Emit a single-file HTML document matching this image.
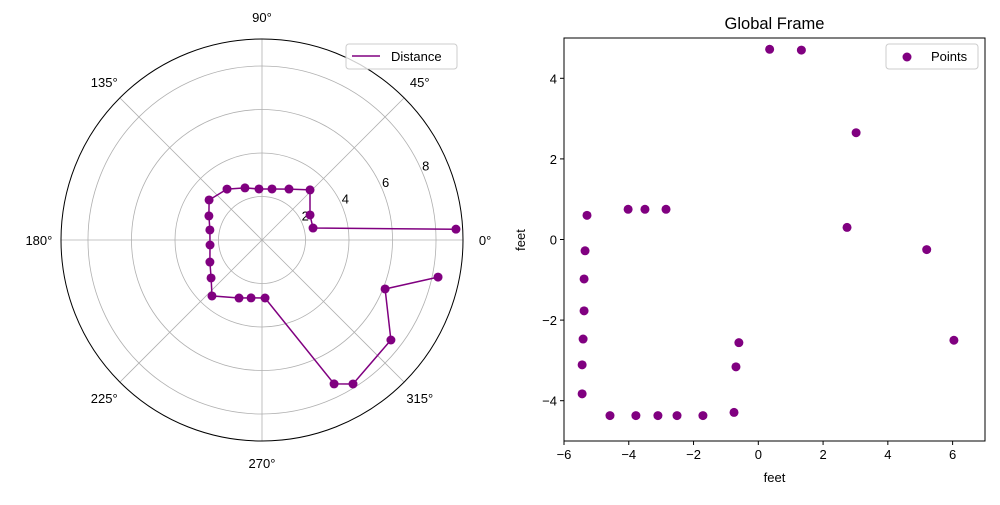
<!DOCTYPE html>
<html><head><meta charset="utf-8"><style>
body{margin:0;background:#fff}
svg text{font-family:"Liberation Sans","DejaVu Sans",sans-serif;font-size:13px;fill:#000}
</style></head><body>
<svg id="s" width="1000" height="500" xmlns="http://www.w3.org/2000/svg">
<rect width="1000" height="500" fill="#fff"/>
</svg>
<script>
const polarR=[8.93,2.41,2.49,3.19,2.65,2.39,2.35,2.52,2.84,3.05,2.68,2.44,2.40,2.60,2.92,3.45,2.87,2.71,2.67,7.40,7.83,7.50,6.09,8.27];
const polarTheta=[3.2,13.2,27.5,46.2,62.1,78.9,93.4,108.1,124.5,142.9,155.6,169.1,185.5,202.9,216.7,228.2,248.4,259.3,273,296.6,302.3,322.2,338.3,348.1];
const radialTicks=[2,4,6,8];
const angleTicks=[0,45,90,135,180,225,270,315];
const ptsX=[0.35,1.33,3.02,2.74,5.2,6.04,-4.02,-3.5,-2.85,-5.29,-5.35,-5.38,-5.38,-5.41,-5.44,-5.44,-4.58,-3.78,-3.1,-2.51,-1.71,-0.75,-0.69,-0.6];
const ptsY=[4.72,4.7,2.65,0.3,-0.25,-2.5,0.75,0.75,0.75,0.6,-0.28,-0.98,-1.77,-2.47,-3.11,-3.83,-4.37,-4.37,-4.37,-4.37,-4.37,-4.29,-3.16,-2.56];
const xTicks=[-6,-4,-2,0,2,4,6];
const yTicks=[-4,-2,0,2,4];
const PURPLE='#800080';
const s=document.getElementById('s');const NS='http://www.w3.org/2000/svg';
function el(t,a,txt){const e=document.createElementNS(NS,t);for(const k in a)e.setAttribute(k,a[k]);if(txt!==undefined)e.textContent=txt;s.appendChild(e);return e;}
// polar
const cx=262,cy=240,R=201,rmax=9.24;
const pr=r=>r/rmax*R;
const px=(r,t)=>cx+pr(r)*Math.cos(t*Math.PI/180);
const py=(r,t)=>cy-pr(r)*Math.sin(t*Math.PI/180);
for(const r of radialTicks){const c=el('circle',{cx:cx,cy:cy,r:pr(r),fill:'none',stroke:'#b0b0b0','stroke-width':0.8});

}
for(const a of angleTicks){const l=el('line',{x1:cx,y1:cy,x2:px(rmax,a),y2:py(rmax,a),stroke:'#b0b0b0','stroke-width':0.8});


const lr=rmax*1.11;const t=el('text',{x:px(lr,a),y:py(lr,a)+5,'text-anchor':'middle'},a+'°');

}
const oc=el('circle',{cx:cx,cy:cy,r:R,fill:'none',stroke:'#000','stroke-width':1});


for(const r of radialTicks){const t=el('text',{x:px(r,22.5)+3,y:py(r,22.5)-3,'text-anchor':'middle'},r);

}
let d='';polarR.forEach((r,i)=>{d+=(i?'L':'M')+px(r,polarTheta[i]).toFixed(1)+','+py(r,polarTheta[i]).toFixed(1);});
const pl=el('path',{d:d,fill:'none',stroke:PURPLE,'stroke-width':1.5});


polarR.forEach((r,i)=>{const c=el('circle',{cx:px(r,polarTheta[i]),cy:py(r,polarTheta[i]),r:4.5,fill:PURPLE});

});
const lg1=el('rect',{x:346,y:44,width:111,height:25,rx:3,fill:'#fff','fill-opacity':0.8,stroke:'#ccc'});


el('line',{x1:352,y1:56,x2:380,y2:56,stroke:PURPLE,'stroke-width':1.5});
const lt1=el('text',{x:391,y:61},'Distance');


// cartesian
const X0=564,X1=985,Y0=38,Y1=441;
const sx=v=>X0+(v+6)/13*(X1-X0);
const sy=v=>Y1-(v+5)/10*(Y1-Y0);
const fr=el('rect',{x:X0,y:Y0,width:X1-X0,height:Y1-Y0,fill:'none',stroke:'#000','stroke-width':1});


for(const v of xTicks){el('line',{x1:sx(v),y1:Y1,x2:sx(v),y2:Y1+4,stroke:'#000'});
const t=el('text',{x:sx(v),y:Y1+18,'text-anchor':'middle'},v<0?'−'+(-v):v);

}
for(const v of yTicks){el('line',{x1:X0-4,y1:sy(v),x2:X0,y2:sy(v),stroke:'#000'});
const t=el('text',{x:X0-7,y:sy(v)+5,'text-anchor':'end'},v<0?'−'+(-v):v);

}
ptsX.forEach((x,i)=>{const c=el('circle',{cx:sx(x),cy:sy(ptsY[i]),r:4.5,fill:PURPLE});

});
const ti=el('text',{x:(X0+X1)/2,y:29,'text-anchor':'middle',style:'font-size:16.5px'},'Global Frame');


const xl=el('text',{x:(X0+X1)/2,y:482,'text-anchor':'middle'},'feet');


const yl=el('text',{x:525,y:240,'text-anchor':'middle',transform:'rotate(-90 525 240)'},'feet');


const lg2=el('rect',{x:886,y:44,width:92,height:25,rx:3,fill:'#fff','fill-opacity':0.8,stroke:'#ccc'});


el('circle',{cx:907,cy:57,r:4.5,fill:PURPLE});
const lt2=el('text',{x:931,y:61},'Points');


</script>
</body></html>
